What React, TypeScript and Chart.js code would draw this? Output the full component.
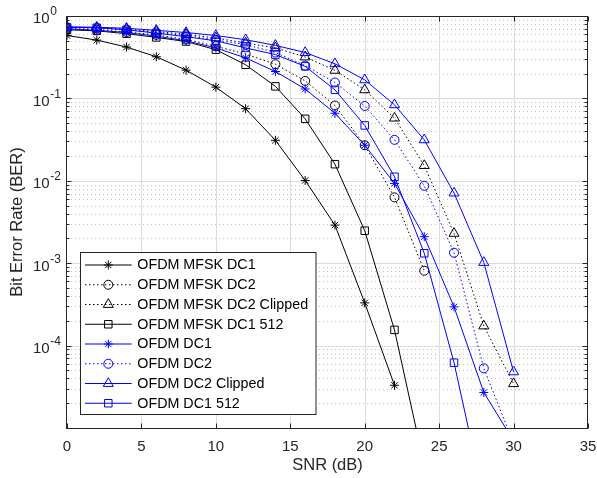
import React, { useEffect, useRef } from 'react';
import { Chart, registerables } from 'chart.js';
import { drawPoint } from 'chart.js/helpers';

Chart.register(...registerables);

// ---------------- data ----------------
const snr = [0, 2, 4, 6, 8, 10, 12, 14, 16, 18, 20, 22, 24, 26, 28, 30];

const berMfskDc1 = [0.58, 0.51, 0.42, 0.32, 0.22, 0.137, 0.075, 0.031, 0.0101, 0.0029, 3.3e-4, 3.3e-5];
const berMfskDc2 = [0.70, 0.68, 0.64, 0.59, 0.52, 0.43, 0.345, 0.26, 0.163, 0.082, 0.027, 0.0063, 8.1e-4];
const berMfskDc2Clipped = [0.73, 0.72, 0.69, 0.65, 0.60, 0.54, 0.47, 0.41, 0.318, 0.219, 0.127, 0.0576, 0.0153, 0.0023, 1.73e-4, 3.45e-5];
const berMfskDc1512 = [0.68, 0.66, 0.61, 0.55, 0.49, 0.39, 0.256, 0.14, 0.0565, 0.0159, 0.00248, 1.55e-4, 3.5e-6];
const berOfdmDc1 = [0.70, 0.67, 0.63, 0.57, 0.50, 0.41, 0.31, 0.212, 0.13, 0.066, 0.027, 0.0093, 0.0021, 2.95e-4, 2.7e-5, 7e-6];
const berOfdmDc2 = [0.72, 0.71, 0.68, 0.63, 0.58, 0.51, 0.45, 0.36, 0.25, 0.156, 0.081, 0.0314, 0.0087, 0.00134, 5.3e-5, 6.5e-6];
const berOfdmDc2Clipped = [0.74, 0.73, 0.71, 0.67, 0.63, 0.58, 0.515, 0.44, 0.36, 0.263, 0.168, 0.0836, 0.0314, 0.0071, 0.00102, 4.8e-5];
const berOfdmDc1512 = [0.73, 0.72, 0.68, 0.62, 0.56, 0.50, 0.41, 0.34, 0.245, 0.127, 0.047, 0.0112, 0.00132, 6.2e-5, 1.4e-6];

const seriesLabels = [
  'OFDM MFSK DC1',
  'OFDM MFSK DC2',
  'OFDM MFSK DC2 Clipped',
  'OFDM MFSK DC1 512',
  'OFDM DC1',
  'OFDM DC2',
  'OFDM DC2 Clipped',
  'OFDM DC1 512',
];
const seriesValues = [
  berMfskDc1, berMfskDc2, berMfskDc2Clipped, berMfskDc1512,
  berOfdmDc1, berOfdmDc2, berOfdmDc2Clipped, berOfdmDc1512,
];

const xTicks = [0, 5, 10, 15, 20, 25, 30, 35];
const yDecadeExponents = [0, -1, -2, -3, -4];
const xTitle = 'SNR (dB)';
const yTitle = 'Bit Error Rate (BER)';

// ---------------- styles ----------------
const FONT = '"Liberation Sans", Arial, Helvetica, sans-serif';
const AXIS = '#262626';
const BLACK = '#000000';
const BLUE = '#0000ff';
const DOT = [1.5, 2.5];

const seriesStyles = [
  { color: BLACK, dash: [], marker: 'star', r: 4.5 },
  { color: BLACK, dash: DOT, marker: 'circle', r: 4.5 },
  { color: BLACK, dash: DOT, marker: 'triangle', r: 5.8 },
  { color: BLACK, dash: [], marker: 'rect', r: 5.3 },
  { color: BLUE, dash: [], marker: 'star', r: 4.5 },
  { color: BLUE, dash: DOT, marker: 'circle', r: 4.5 },
  { color: BLUE, dash: [], marker: 'triangle', r: 5.8 },
  { color: BLUE, dash: [], marker: 'rect', r: 5.3 },
];

const matlabAxes = {
  id: 'matlabAxes',
  beforeDatasetsDraw(chart: any) {
    const { ctx, chartArea: a, scales } = chart;
    const x = scales.x, y = scales.y;
    ctx.save();
    ctx.lineWidth = 1;
    // minor dotted horizontal grid
    ctx.strokeStyle = '#c2c2c2';
    ctx.setLineDash([1, 3]);
    for (let e = -5; e < 0; e++) {
      for (let k = 2; k <= 9; k++) {
        const py = Math.round(y.getPixelForValue(k * Math.pow(10, e))) + 0.5;
        ctx.beginPath();
        ctx.moveTo(a.left, py);
        ctx.lineTo(a.right, py);
        ctx.stroke();
      }
    }
    ctx.setLineDash([]);
    ctx.strokeStyle = '#dcdcdc';
    for (let e = -4; e < 0; e++) {
      const py = Math.round(y.getPixelForValue(Math.pow(10, e))) + 0.5;
      ctx.beginPath();
      ctx.moveTo(a.left, py);
      ctx.lineTo(a.right, py);
      ctx.stroke();
    }
    for (const t of xTicks) {
      if (t === xTicks[0] || t === xTicks[xTicks.length - 1]) continue;
      const px = Math.round(x.getPixelForValue(t)) + 0.5;
      ctx.beginPath();
      ctx.moveTo(px, a.top);
      ctx.lineTo(px, a.bottom);
      ctx.stroke();
    }
    ctx.restore();
  },
  afterDatasetsDraw(chart: any) {
    const { ctx, chartArea: a, scales } = chart;
    const x = scales.x, y = scales.y;
    ctx.save();
    ctx.setLineDash([]);
    ctx.lineWidth = 1;
    ctx.strokeStyle = AXIS;
    const L = a.left - 0.5, R = a.right - 0.5, T = a.top + 0.5, B = a.bottom + 0.5;
    ctx.strokeRect(L, T, R - L, B - T);
    // x ticks (inward, top and bottom)
    for (const t of xTicks) {
      const px = Math.round(x.getPixelForValue(t)) + 0.5;
      ctx.beginPath();
      ctx.moveTo(px, B); ctx.lineTo(px, B - 5);
      ctx.moveTo(px, T); ctx.lineTo(px, T + 5);
      ctx.stroke();
    }
    // y ticks
    for (let e = -5; e <= 0; e++) {
      for (let k = 1; k <= 9; k++) {
        const v = k * Math.pow(10, e);
        if (v > 1.0001 || v < 0.99e-5) continue;
        const len = k === 1 ? 5 : 3;
        const py = Math.round(y.getPixelForValue(v)) + 0.5;
        ctx.beginPath();
        ctx.moveTo(L, py); ctx.lineTo(L + len, py);
        ctx.moveTo(R, py); ctx.lineTo(R - len, py);
        ctx.stroke();
      }
    }
    // tick labels
    ctx.fillStyle = AXIS;
    ctx.textBaseline = 'alphabetic';
    ctx.font = `15px ${FONT}`;
    ctx.textAlign = 'center';
    for (const t of xTicks) {
      ctx.fillText(String(t), x.getPixelForValue(t), a.bottom + 22.5);
    }
    for (const e of yDecadeExponents) {
      const py = y.getPixelForValue(Math.pow(10, e));
      const baseRight = a.left - 17.3;
      ctx.font = `15px ${FONT}`;
      ctx.textAlign = 'right';
      ctx.fillText('10', baseRight, py + 7.3);
      ctx.font = `12px ${FONT}`;
      ctx.textAlign = 'left';
      ctx.fillText(String(e), baseRight + 0.6, py - 0.6);
    }
    // axis titles
    ctx.font = `16.5px ${FONT}`;
    ctx.textAlign = 'center';
    ctx.fillText(xTitle, (a.left + a.right) / 2, 470);
    ctx.save();
    ctx.translate(22.3, (a.top + a.bottom) / 2);
    ctx.rotate(-Math.PI / 2);
    ctx.fillText(yTitle, 0, 0);
    ctx.restore();

    // legend
    const lx = 80.5, ly = 252.5, lw = 235.5, lh = 162;
    ctx.fillStyle = '#ffffff';
    ctx.fillRect(lx, ly, lw, lh);
    ctx.strokeStyle = AXIS;
    ctx.strokeRect(lx, ly, lw, lh);
    ctx.font = `14.3px ${FONT}`;
    ctx.textAlign = 'left';
    ctx.textBaseline = 'middle';
    seriesLabels.forEach((lab, i) => {
      const st = seriesStyles[i];
      const cy = 265 + i * 19.75;
      ctx.strokeStyle = st.color;
      ctx.lineWidth = 1;
      ctx.setLineDash(st.dash);
      ctx.beginPath();
      ctx.moveTo(85, cy);
      ctx.lineTo(131.7, cy);
      ctx.stroke();
      ctx.setLineDash([]);
      ctx.fillStyle = 'rgba(0,0,0,0)';
      drawPoint(ctx, { pointStyle: st.marker, radius: st.r, rotation: 0, borderWidth: 1 } as any, 108.3, cy);
      ctx.fillStyle = '#000000';
      ctx.fillText(lab, 137.3, cy + 0.5);
    });
    ctx.restore();
  },
};

export default function App() {
  const ref = useRef<HTMLCanvasElement>(null);
  useEffect(() => {
    document.body.style.margin = '0';
    const datasets = seriesValues.map((vals, i) => {
      const st = seriesStyles[i];
      return {
        label: seriesLabels[i],
        data: vals.map((v, j) => ({ x: snr[j], y: v })),
        borderColor: st.color,
        backgroundColor: 'rgba(0,0,0,0)',
        borderWidth: 1,
        borderDash: st.dash,
        pointStyle: st.marker,
        pointRadius: st.r,
        pointBorderWidth: 1,
        pointBorderColor: st.color,
        pointBackgroundColor: 'rgba(0,0,0,0)',
        tension: 0,
        order: 8 - i,
      };
    });
    const chart = new Chart(ref.current as HTMLCanvasElement, {
      type: 'line',
      data: { datasets } as any,
      options: {
        responsive: false,
        animation: false,
        devicePixelRatio: 1,
        layout: { padding: { left: 0, right: 9, top: 16, bottom: 0 } },
        plugins: { legend: { display: false }, tooltip: { enabled: false } },
        scales: {
          x: {
            type: 'linear', min: 0, max: 35,
            grid: { display: false }, border: { display: false },
            ticks: { display: false },
            afterFit(s: any) { s.height = 50; },
          },
          y: {
            type: 'logarithmic', min: 1e-5, max: 1,
            grid: { display: false }, border: { display: false },
            ticks: { display: false },
            afterFit(s: any) { s.width = 67; },
          },
        },
      } as any,
      plugins: [matlabAxes],
    });
    return () => chart.destroy();
  }, []);
  return (
    <div style={{ position: 'absolute', left: 0, top: 0, width: 597, height: 478 }}>
      <canvas ref={ref} width={597} height={478} style={{ display: 'block' }} />
    </div>
  );
}
